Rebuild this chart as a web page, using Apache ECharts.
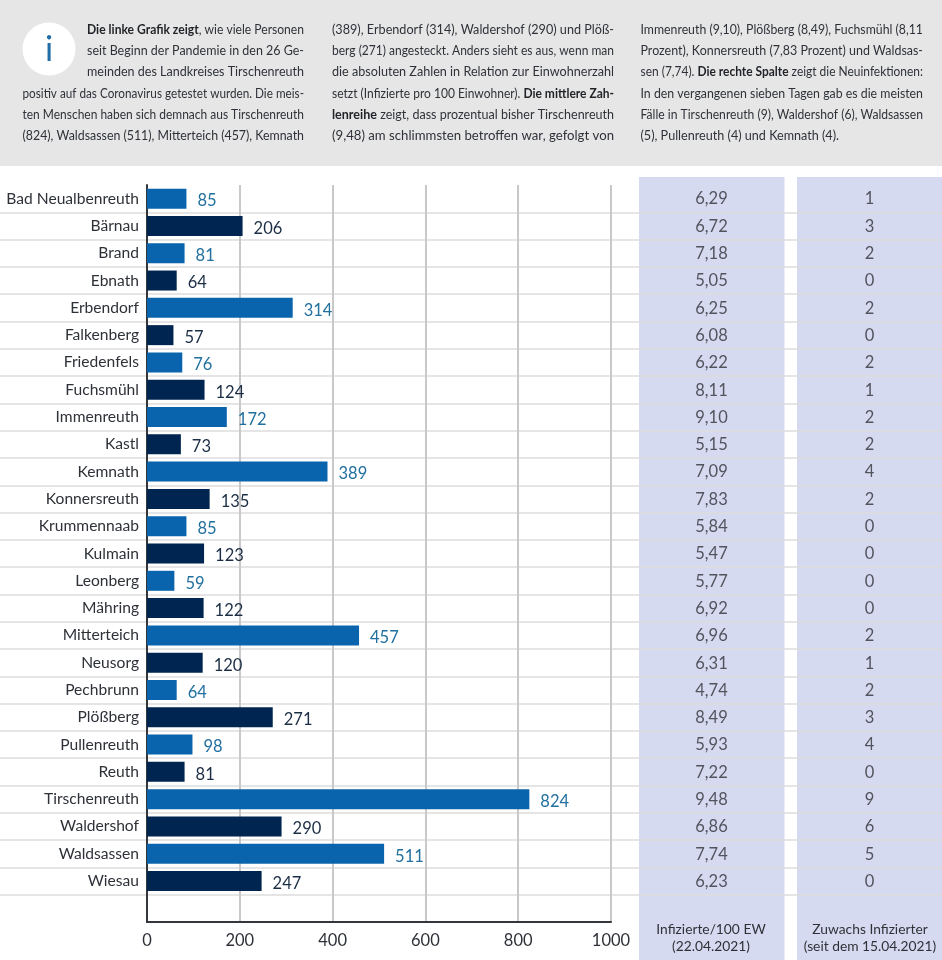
<!DOCTYPE html>
<html lang="de">
<head>
<meta charset="utf-8">
<style>html,body{margin:0;padding:0;background:#fff}#c{width:942px;height:960px}</style>
<script src="https://cdn.jsdelivr.net/npm/echarts@6/dist/echarts.min.js"></script>
</head>
<body>
<div id="c"></div>
<script>
const gemeinden = ['Bad Neualbenreuth','Bärnau','Brand','Ebnath','Erbendorf','Falkenberg','Friedenfels','Fuchsmühl','Immenreuth','Kastl','Kemnath','Konnersreuth','Krummennaab','Kulmain','Leonberg','Mähring','Mitterteich','Neusorg','Pechbrunn','Plößberg','Pullenreuth','Reuth','Tirschenreuth','Waldershof','Waldsassen','Wiesau'];
const infizierte = [85,206,81,64,314,57,76,124,172,73,389,135,85,123,59,122,457,120,64,271,98,81,824,290,511,247];
const pro100 = [6.29,6.72,7.18,5.05,6.25,6.08,6.22,8.11,9.10,5.15,7.09,7.83,5.84,5.47,5.77,6.92,6.96,6.31,4.74,8.49,5.93,7.22,9.48,6.86,7.74,6.23];
const zuwachs = [1,3,2,0,2,0,2,1,2,2,4,2,0,0,0,0,2,1,2,3,4,0,9,6,5,0];
const spalte1 = ['**Die linke Grafik zeigt**, wie viele Personen','seit Beginn der Pandemie in den 26 Ge-','meinden des Landkreises Tirschenreuth','positiv auf das Coronavirus getestet wurden. Die meis-','ten Menschen haben sich demnach aus Tirschenreuth','(824), Waldsassen (511), Mitterteich (457), Kemnath'];
const spalte2 = ['(389), Erbendorf (314), Waldershof (290) und Plöß-','berg (271) angesteckt. Anders sieht es aus, wenn man','die absoluten Zahlen in Relation zur Einwohnerzahl','setzt (Infizierte pro 100 Einwohner). **Die mittlere Zah-**','**lenreihe** zeigt, dass prozentual bisher Tirschenreuth','(9,48) am schlimmsten betroffen war, gefolgt von'];
const spalte3 = ['Immenreuth (9,10), Plößberg (8,49), Fuchsmühl (8,11','Prozent), Konnersreuth (7,83 Prozent) und Waldsas-','sen (7,74). **Die rechte Spalte** zeigt die Neuinfektionen:','In den vergangenen sieben Tagen gab es die meisten','Fälle in Tirschenreuth (9), Waldershof (6), Waldsassen','(5), Pullenreuth (4) und Kemnath (4).'];
const kopfMitte = 'Infizierte/100 EW\n(22.04.2021)';
const kopfRechts = 'Zuwachs Infizierter\n(seit dem 15.04.2021)';

const FONT = 'Lato, sans-serif';
const BLUE = '#0a64ad', NAVY = '#002550', BLUETXT = '#22709f', NAVYTXT = '#1c2e45', TXT = '#2e3238';
const cats = gemeinden.concat(['']);   // empty last slot below Wiesau
const TOP = 185, H = 737;

const mc = document.createElement('canvas').getContext('2d');
function textLine(x0, x1, y, markup) {
  const parts = markup.split('**');
  let w = 0, text = '';
  parts.forEach((p, i) => {
    if (!p) return;
    const bold = i % 2 === 1;
    mc.font = (bold ? 'bold ' : '') + '13.5px Lato';
    w += mc.measureText(p).width;
    text += '{' + (bold ? 'b' : 'n') + '|' + p + '}';
  });
  return {
    type: 'text', x: x0, y: y, scaleX: (x1 - x0) / w, z: 5,
    style: {
      text: text, align: 'left', verticalAlign: 'middle',
      rich: {
        n: {font: '13.5px Lato', fill: TXT, color: TXT},
        b: {font: 'bold 13.5px Lato', fill: '#1f2226', color: '#1f2226'}
      }
    }
  };
}
const zeilenY = [29.5, 50.8, 72, 93.2, 114.5, 136];
const graphics = [
  {type:'rect', shape:{x:0,y:0,width:942,height:166}, style:{fill:'#e6e6e6'}, z:-10},
  {type:'rect', shape:{x:639,y:177,width:145.5,height:783}, style:{fill:'#d5daf0'}, z:-10},
  {type:'rect', shape:{x:797,y:177,width:145,height:783}, style:{fill:'#d5daf0'}, z:-10},
  {type:'circle', shape:{cx:49,cy:49,r:26.5}, style:{fill:'#fff'}, z:4},
  {type:'text', x:49, y:50, z:5, style:{text:'i', font:'34px Lato', fill:'#1f6ea6', align:'center', verticalAlign:'middle'}},
  {type:'text', x:711, y:938.5, z:5, style:{text:kopfMitte, font:'13.8px Lato', lineHeight:17, fill:TXT, align:'center', verticalAlign:'middle'}},
  {type:'text', x:870, y:938.5, z:5, style:{text:kopfRechts, font:'13.8px Lato', lineHeight:17, fill:TXT, align:'center', verticalAlign:'middle'}}
];
spalte1.forEach((t,i) => graphics.push(textLine(i < 3 ? 87 : 22.5, 304, zeilenY[i], t)));
spalte2.forEach((t,i) => graphics.push(textLine(332, 614, zeilenY[i], t)));
spalte3.forEach((t,i) => graphics.push(textLine(640.5, i === 5 ? 839 : 923, zeilenY[i], t)));

const hiddenX = i => ({type:'value', gridIndex:i, min:0, max:1, show:false});
const hiddenY = i => ({type:'category', gridIndex:i, data:cats, inverse:true, show:false});
const kolumne = (i, values, fmt) => ({
  type:'scatter', xAxisIndex:i, yAxisIndex:i, symbolSize:1, silent:true,
  itemStyle:{color:'rgba(0,0,0,0)'},
  data: values.map((v,k) => ({value:[0.5, k], text: fmt(v)})),
  label:{show:true, position:'inside', offset:[0,0.5], color:TXT, fontFamily:FONT, fontSize:16.5,
         formatter:p => p.data.text}
});

const chart = echarts.init(document.getElementById('c'), null, {renderer:'canvas'});
chart.setOption({
  animation:false,
  backgroundColor:'#fff',
  graphic:{elements:graphics},
  grid:[
    {left:0, width:942, top:TOP, height:H, outerBoundsMode:'none'},
    {left:147, width:464, top:TOP, height:H, outerBoundsMode:'none'},
    {left:639, width:145, top:TOP, height:H, outerBoundsMode:'none'},
    {left:797, width:145, top:TOP, height:H, outerBoundsMode:'none'}
  ],
  xAxis:[
    hiddenX(0),
    {type:'value', gridIndex:1, min:0, max:1000, interval:200,
     axisLine:{show:true, onZero:false, lineStyle:{color:'#33373c', width:2}},
     axisTick:{show:false},
     splitLine:{show:true, showMinLine:false, lineStyle:{color:'#c8c8c8', width:2}},
     axisLabel:{color:TXT, fontFamily:FONT, fontSize:16.5, margin:10, formatter:v => String(v)}},
    hiddenX(2), hiddenX(3)
  ],
  yAxis:[
    {type:'category', gridIndex:0, data:cats, inverse:true,
     axisLine:{show:false}, axisTick:{show:false}, axisLabel:{show:false},
     splitLine:{show:true, showMinLine:false, showMaxLine:false, interval:0, lineStyle:{color:'#dcdcdc', width:1.5}}},
    {type:'category', gridIndex:1, data:cats, inverse:true,
     axisLine:{show:true, onZero:false, lineStyle:{color:'#33373c', width:2}},
     axisTick:{show:false},
     axisLabel:{color:TXT, fontFamily:FONT, fontSize:15.6, margin:8, interval:0, padding:[2,0,0,0]}},
    hiddenY(2), hiddenY(3)
  ],
  series:[
    {type:'bar', xAxisIndex:1, yAxisIndex:1, barWidth:20, silent:true,
     data: infizierte.map((v,i) => ({
       value:v,
       itemStyle:{color: i % 2 ? NAVY : BLUE},
       label:{color: i % 2 ? NAVYTXT : BLUETXT}
     })),
     label:{show:true, position:'right', distance:11, offset:[0,2.5], fontFamily:FONT, fontSize:16.5}},
    kolumne(2, pro100, v => v.toFixed(2).replace('.', ',')),
    kolumne(3, zuwachs, v => String(v))
  ]
});
</script>
</body>
</html>
